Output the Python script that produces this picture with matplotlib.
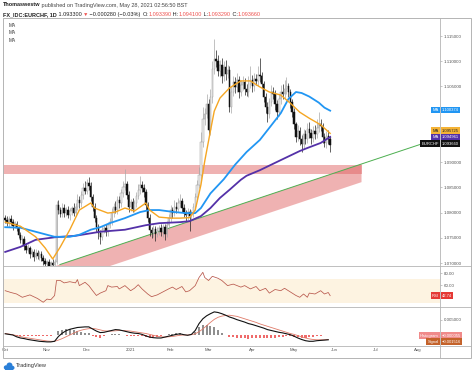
import matplotlib.pyplot as plt
import numpy as np
from matplotlib.patches import Polygon, Rectangle
from matplotlib.ticker import FormatStrFormatter
from matplotlib.transforms import offset_copy

# EURCHF daily bars, 1 Oct 2020 .. 28 May 2021 (prices in pips, x 1e-4)
first_open = 10790
close_pips = [
    10785, 10779, 10788, 10781, 10774, 10778, 10770, 10756, 10745, 10748,
    10733, 10726, 10730, 10718, 10722, 10712, 10720, 10714, 10718, 10710,
    10704, 10698, 10702, 10695, 10700, 10697, 10703, 10815, 10805, 10798,
    10810, 10800, 10806, 10795, 10803, 10809, 10799, 10812, 10825, 10818,
    10835, 10848, 10843, 10858, 10852, 10830, 10812, 10790, 10772, 10760,
    10752, 10766, 10770, 10762, 10775, 10782, 10800, 10812, 10805, 10825,
    10818, 10838, 10850, 10856, 10835, 10812, 10820, 10808, 10818, 10832,
    10845, 10855, 10848, 10840, 10815, 10790, 10765, 10760, 10768, 10758,
    10764, 10770, 10762, 10772, 10758, 10775, 10790, 10805, 10800, 10812,
    10808, 10818, 10822, 10810, 10800, 10796, 10802, 10793, 10798, 10812,
    10830, 10855, 10875, 10940, 10985, 10995, 11015, 10963, 11030, 11085,
    11105, 11100, 11080, 11092, 11070, 11088, 11075, 11082, 11010, 11040,
    11058, 11048, 11062, 11040, 11052, 11058, 11045, 11040, 11055, 11062,
    11050, 11065, 11060, 11072, 11070, 11055, 11030, 11010, 10995, 11020,
    11040, 11035, 11015, 11000, 11025, 11040, 11035, 11045, 11050, 11040,
    11020, 11000, 10975, 10950, 10962, 10945, 10935, 10955, 10945, 10965,
    10958, 10948, 10962, 10955, 10968, 10975, 10972, 10950, 10938, 10952,
    10945, 10933]
wick_hi = [
    6, 8, 5, 7, 6, 5, 6, 4, 6, 7, 5, 6, 8, 4, 6, 5, 7, 6, 5, 6,
    5, 6, 4, 6, 5, 7, 5, 8, 10, 6, 9, 7, 6, 8, 7, 5, 9, 6, 12, 7,
    8, 10, 14, 9, 12, 8, 6, 7, 5, 6, 5, 7, 6, 8, 5, 7, 9, 6, 10, 8,
    7, 9, 12, 30, 6, 8, 7, 9, 6, 8, 12, 18, 8, 9, 6, 5, 7, 6, 8, 5,
    7, 6, 8, 5, 6, 9, 8, 10, 7, 12, 8, 10, 14, 6, 7, 5, 8, 6, 7, 6,
    8, 10, 15, 20, 25, 12, 20, 10, 15, 15, 40, 18, 12, 10, 14, 12, 15, 10, 8, 10,
    12, 10, 14, 8, 10, 12, 9, 10, 15, 28, 10, 12, 9, 18, 35, 8, 6, 7, 9, 8,
    12, 9, 7, 8, 10, 12, 15, 18, 18, 6, 5, 6, 7, 5, 12, 8, 9, 10, 8, 12,
    15, 8, 10, 12, 18, 25, 10, 5, 8, 10, 12, 6]
wick_lo = [
    6, 5, 7, 6, 8, 5, 6, 7, 5, 8, 7, 6, 5, 8, 6, 7, 5, 6, 8, 5,
    7, 6, 8, 6, 7, 5, 6, 4, 8, 7, 6, 8, 7, 6, 9, 7, 6, 5, 7, 9,
    6, 8, 7, 6, 8, 7, 9, 8, 10, 12, 15, 7, 6, 9, 8, 6, 7, 8, 6, 7,
    8, 6, 7, 6, 9, 10, 8, 7, 6, 7, 6, 8, 7, 9, 10, 8, 12, 10, 8, 15,
    7, 9, 8, 10, 12, 6, 7, 8, 10, 7, 8, 7, 6, 9, 8, 12, 10, 30, 8, 6,
    7, 8, 6, 8, 10, 12, 8, 10, 9, 12, 10, 12, 9, 11, 14, 10, 12, 9, 10, 12,
    9, 10, 8, 12, 9, 10, 11, 9, 10, 8, 10, 9, 8, 10, 12, 9, 10, 12, 15, 8,
    9, 10, 12, 15, 8, 9, 10, 8, 9, 10, 12, 10, 9, 10, 8, 12, 15, 9, 10, 8,
    10, 12, 9, 10, 8, 9, 10, 12, 8, 10, 9, 12]

# moving averages at sample bars
ma_orange_bar = [0, 8, 16, 21, 25, 29, 34, 39, 45, 47, 54, 58, 63, 68, 74, 76, 81, 87, 92,
                 97, 100, 103, 105, 108, 110, 113, 118, 124, 129, 134, 139, 145, 150, 155,
                 160, 166, 171]
ma_orange = [1.0781, 1.0773, 1.0752, 1.0730, 1.0708, 1.0732, 1.0766, 1.0805, 1.0819, 1.0809,
             1.0799, 1.0801, 1.0809, 1.0803, 1.0819, 1.0805, 1.0791, 1.0789, 1.0789, 1.0790,
             1.0805, 1.0855, 1.0902, 1.0962, 1.1001, 1.1027, 1.1047, 1.1061, 1.1061, 1.1049,
             1.1039, 1.1033, 1.1017, 1.0999, 1.0987, 1.0974, 1.0957]
ma_blue_bar = [0, 8, 18, 26, 34, 39, 45, 50, 55, 63, 71, 76, 81, 89, 95, 100, 103, 108, 115,
               121, 127, 134, 139, 145, 149, 153, 156, 160, 165, 168, 171]
ma_blue = [1.0771, 1.0770, 1.0760, 1.0752, 1.0752, 1.0756, 1.0766, 1.0771, 1.0779, 1.0789,
           1.0801, 1.0805, 1.0805, 1.0801, 1.0799, 1.0799, 1.0809, 1.0838, 1.0866, 1.0895,
           1.0920, 1.0944, 1.0968, 1.0997, 1.1025, 1.1039, 1.1037, 1.1030, 1.1018, 1.1008,
           1.1002]
ma_purple_bar = [0, 8, 16, 26, 37, 50, 63, 74, 81, 92, 97, 103, 108, 113, 118, 124, 127, 134,
                 145, 155, 159, 166, 171]
ma_purple = [1.0722, 1.0732, 1.0746, 1.0751, 1.0754, 1.0762, 1.0766, 1.0775, 1.0779, 1.0781,
             1.0783, 1.0793, 1.0809, 1.0829, 1.0845, 1.0865, 1.0873, 1.0884, 1.0904, 1.0922,
             1.0928, 1.0938, 1.0950]

# support zone, rising trendline + channel
zone_lo, zone_hi = 1.0877, 1.0895
zone_end = 187.5
trend_bar = [28.8, 218.3]
trend_px = [1.0697, 1.0935]
channel_depth = 0.0036

# RSI
rsi_bar = [0, 3, 6, 9, 13, 17, 20, 22, 24, 26, 27, 29, 31, 34, 37, 38, 39, 42, 44, 46, 48, 50,
           53, 54, 56, 59, 60, 63, 66, 68, 70, 72, 75, 77, 80, 83, 86, 88, 90, 93, 95, 97, 100,
           102, 104, 105, 107, 109, 112, 114, 117, 120, 124, 126, 129, 132, 134, 137, 139, 142,
           145, 147, 150, 153, 155, 157, 159, 160, 163, 166, 168, 170, 171]
rsi = [51, 48, 45.5, 40, 44, 38, 31.7, 37, 36, 43, 68, 68, 64, 66, 64, 69.5, 59.5, 65, 59.5, 51,
       43, 47, 51, 59.5, 57, 58, 54, 59.5, 51, 55, 61, 54, 45.5, 41, 44, 49, 54, 57, 53, 58, 49,
       51, 59.5, 73, 81.7, 73, 68, 75, 71.7, 68, 59.5, 62, 57, 59.5, 54, 58, 51, 55, 47, 53, 51,
       55, 49, 43, 40, 45.5, 40, 47, 45.5, 51, 45.5, 48, 42.74]

# MACD line and signal, every second bar from bar 0
macd = [0.0004, 0.0002, 0.0000, -0.0006, -0.0010, -0.0012, -0.0015, -0.0017, -0.0019, -0.0021,
        -0.0022, -0.0023, -0.0023, -0.0021, -0.0005, 0.0006, 0.0014, 0.0019, 0.0022, 0.0025,
        0.0026, 0.0027, 0.0027, 0.0020, 0.0013, 0.0008, 0.0009, 0.0012, 0.0015, 0.0018,
        0.0017, 0.0014, 0.0011, 0.0008, 0.0006, 0.0005, 0.0002, -0.0003, -0.0007, -0.0009,
        -0.0010, -0.0010, -0.0007, -0.0004, -0.0001, 0.0002, 0.0004, 0.0001, -0.0001, 0.0002,
        0.0015, 0.0038, 0.0054, 0.0064, 0.0071, 0.0077, 0.0075, 0.0071, 0.0066, 0.0060,
        0.0056, 0.0051, 0.0047, 0.0043, 0.0038, 0.0035, 0.0031, 0.0027, 0.0023, 0.0018,
        0.0015, 0.0012, 0.0009, 0.0007, 0.0004, 0.0001, -0.0004, -0.0010, -0.0015, -0.0019,
        -0.0021, -0.0021, -0.0019, -0.0018, -0.0017, -0.0016]
signal = [0.0005, 0.0003, 0.0001, -0.0002, -0.0005, -0.0008, -0.0010, -0.0012, -0.0014, -0.0016,
          -0.0018, -0.0020, -0.0021, -0.0021, -0.0017, -0.0012, -0.0006, 0.0000, 0.0006, 0.0012,
          0.0016, 0.0019, 0.0021, 0.0022, 0.0020, 0.0017, 0.0014, 0.0013, 0.0013, 0.0014,
          0.0015, 0.0015, 0.0014, 0.0013, 0.0011, 0.0009, 0.0007, 0.0005, 0.0002, -0.0001,
          -0.0004, -0.0006, -0.0007, -0.0006, -0.0005, -0.0003, -0.0001, 0.0000, 0.0000, 0.0001,
          0.0004, 0.0011, 0.0020, 0.0031, 0.0042, 0.0052, 0.0059, 0.0063, 0.0065, 0.0066,
          0.0064, 0.0062, 0.0058, 0.0054, 0.0050, 0.0046, 0.0042, 0.0037, 0.0033, 0.0029,
          0.0025, 0.0021, 0.0017, 0.0013, 0.0009, 0.0005, 0.0002, -0.0002, -0.0006, -0.0010,
          -0.0013, -0.0015, -0.0016, -0.0016, -0.0016, -0.0015]

month_bar = [0, 22, 43, 66, 87, 107, 130, 152, 173, 195, 217]
month_lbl = ['Oct', 'Nov', 'Dec', '2021', 'Feb', 'Mar', 'Apr', 'May', 'Jun', 'Jul', 'Aug']
# price scale labels (1.100 / 1.095 sit under the MA tags)
price_ticks = [1.070, 1.075, 1.080, 1.085, 1.090, 1.105, 1.110, 1.115]

FONT = ['Liberation Sans', 'DejaVu Sans']
plt.rcParams['font.family'] = FONT

W, H = 474, 374
fig = plt.figure(figsize=(W / 100, H / 100), dpi=100, facecolor='white')


def box(x0, y0, x1, y1):
    return [x0 / W, 1 - y1 / H, (x1 - x0) / W, (y1 - y0) / H]


ax = fig.add_axes(box(3, 18, 440, 266))
ax_rsi = fig.add_axes(box(3, 266, 440, 307), sharex=ax)
ax_macd = fig.add_axes(box(3, 307, 440, 346), sharex=ax)
for a in (ax, ax_rsi, ax_macd):
    for s in a.spines.values():
        s.set_visible(False)
    a.yaxis.tick_right()
    a.tick_params(axis='y', length=1.5, width=0.4, color='#999999', labelsize=3.2,
                  labelcolor='#555555', pad=1)
    a.tick_params(axis='x', length=0, labelbottom=False)
ax.set_xlim(-1.16, 228.8)

# --- price pane ---
close = np.array(close_pips) / 1e4
open_ = np.r_[first_open, close_pips[:-1]] / 1e4
high = np.maximum(open_, close) + np.array(wick_hi) / 1e4
low = np.minimum(open_, close) - np.array(wick_lo) / 1e4
bars = np.arange(len(close))
up = close >= open_
body = np.where(np.abs(close - open_) < 0.00004, 0.00004, close - open_)

ax.vlines(bars[up], low[up], high[up], color='#a8a8a8', lw=0.5, zorder=2)
ax.vlines(bars[~up], low[~up], high[~up], color='#222222', lw=0.5, zorder=2)
ax.bar(bars[up], body[up], bottom=open_[up], width=0.75, color='#eeeeee',
       edgecolor='#a0a0a0', linewidth=0.35, zorder=3)
ax.bar(bars[~up], body[~up], bottom=open_[~up], width=0.75, color='#111111',
       edgecolor='#111111', linewidth=0.35, zorder=3)

ax.fill_between([-2, zone_end], zone_lo, zone_hi, color='#e06666', alpha=0.5, lw=0, zorder=1)
slope = (trend_px[1] - trend_px[0]) / (trend_bar[1] - trend_bar[0])
cx = np.array([-2, zone_end])
ctop = trend_px[0] + slope * (cx - trend_bar[0])
ax.add_patch(Polygon([(cx[0], ctop[0]), (cx[1], ctop[1]), (cx[1], ctop[1] - channel_depth),
                      (cx[0], ctop[0] - channel_depth)], closed=True, fc='#e06666',
                     alpha=0.5, lw=0, zorder=1))
ax.plot(trend_bar, trend_px, color='#4caf50', lw=0.7, zorder=1.5)

ax.plot(ma_purple_bar, ma_purple, color='#5431a8', lw=1.3, zorder=4)
ax.plot(ma_blue_bar, ma_blue, color='#2196f3', lw=1.3, zorder=4)
ax.plot(ma_orange_bar, ma_orange, color='#f5a623', lw=1.0, zorder=4)

ax.set_ylim(1.06941, 1.11857)
ax.set_yticks(price_ticks)
ax.yaxis.set_major_formatter(FormatStrFormatter('%.6f'))

# --- RSI pane ---
ax_rsi.axhspan(30, 70, color='#fdf3e1', lw=0)
ax_rsi.plot(rsi_bar, rsi, color='#b8574c', lw=0.55)
ax_rsi.set_ylim(23.8, 92.2)
ax_rsi.set_yticks([60, 80])
ax_rsi.yaxis.set_major_formatter(FormatStrFormatter('%.2f'))

# --- MACD pane ---
macd_bar = np.arange(0, 2 * len(macd), 2)
hist = np.array(macd) - np.array(signal)
ax_macd.bar(macd_bar, hist, width=1.1, color=np.where(hist >= 0, '#8f8f8f', '#ef6b6b'), lw=0)
ax_macd.plot(macd_bar, signal, color='#e07b6a', lw=0.6)
ax_macd.plot(macd_bar, macd, color='#111111', lw=0.8)
ax_macd.set_ylim(-0.00367, 0.00933)
ax_macd.set_yticks([0.005])
ax_macd.yaxis.set_major_formatter(FormatStrFormatter('%.6f'))
ax_macd.set_xticks(month_bar)
ax_macd.set_xticklabels(month_lbl)
ax_macd.tick_params(axis='x', labelbottom=True, labelsize=3.2, labelcolor='#555555', pad=1.5)


def tag(a, yval, name, value, bg, fg, dy=0):
    t1 = offset_copy(a.get_yaxis_transform(), fig=fig, x=-1.2, y=dy, units='dots')
    t2 = offset_copy(a.get_yaxis_transform(), fig=fig, x=1.8, y=dy, units='dots')
    kw = dict(va='center', fontsize=3, color=fg, clip_on=False, zorder=20)
    a.text(1, yval, name, transform=t1, ha='right',
           bbox=dict(boxstyle='square,pad=0.3', fc=bg, ec='none'), **kw)
    a.text(1, yval, value, transform=t2, ha='left',
           bbox=dict(boxstyle='square,pad=0.3', fc=bg, ec='none'), **kw)


tag(ax, 1.100374, 'MA', '1.100374', '#2196f3', 'white')
tag(ax, 1.095725, 'MA', '1.095725', '#f5b335', '#222222', dy=2.7)
tag(ax, 1.094961, 'MA', '1.094961', '#5431a8', 'white')
tag(ax, 1.093660, 'EURCHF', '1.093660', '#111111', 'white')
tag(ax_rsi, 42.74, 'RSI', '42.74', '#e53935', 'white')
tag(ax_macd, -0.000055, 'Histogram', '\u22120.000055', '#f08a8a', 'white', dy=-0.5)
tag(ax_macd, -0.001516, 'Signal', '\u22120.001516', '#c4622a', 'white', dy=-2.2)

for yy in (25.7, 33, 40.7):
    fig.text(9 / W, 1 - yy / H, 'MA', fontsize=3.4, color='#333333', va='center')

# frame
fr = fig.add_axes([0, 0, 1, 1], zorder=10)
fr.set_xlim(0, W)
fr.set_ylim(H, 0)
fr.axis('off')
fr.patch.set_alpha(0)
fr.add_patch(Rectangle((3, 18), 468, 340, fill=False, ec='#b4b4b4', lw=0.7))
fr.plot([440, 440], [18, 358], color='#b4b4b4', lw=0.6)
for yy in (266, 307, 346):
    fr.plot([3, 471], [yy, yy], color='#b4b4b4', lw=0.6)

# TradingView logo: small blue cloud
for cxp, cyp, rr in ((6, 367.5, 2.2), (9.5, 365.5, 3.0), (12.5, 367.8, 2.0)):
    fr.add_patch(plt.Circle((cxp, cyp), rr, color='#2a7fd8', lw=0))
fr.add_patch(Rectangle((5, 367), 8, 2.8, color='#2a7fd8', lw=0))


def chain(x, y, parts, size):
    r = fig.canvas.get_renderer()
    for s, c, bold in parts:
        t = fig.text(x / W, 1 - y / H, s, color=c, fontsize=size,
                     fontweight='bold' if bold else 'normal', va='center')
        x = t.get_window_extent(r).x1


red = '#ef5350'
dark = '#222222'
chain(3, 5, [('Thomaswestw', dark, True),
             (' published on TradingView.com, May 28, 2021 02:56:50 BST', '#444444', False)], 3.95)
chain(3, 14.5, [('FX_IDC:EURCHF, 1D', dark, True), (' 1.093300 ', dark, False),
                ('\u25bc', red, False), (' \u22120.000280 (\u22120.03%) ', dark, False),
                ('O:', dark, False), ('1.093390', red, False), (' H:', dark, False),
                ('1.094100', red, False), (' L:', dark, False), ('1.093290', red, False),
                (' C:', dark, False), ('1.093660', red, False)], 3.95)

fig.text(16 / W, 1 - 366 / H, 'TradingView', fontsize=4.1, color='#333333', va='center')

fig.savefig('out.png', dpi=100)
